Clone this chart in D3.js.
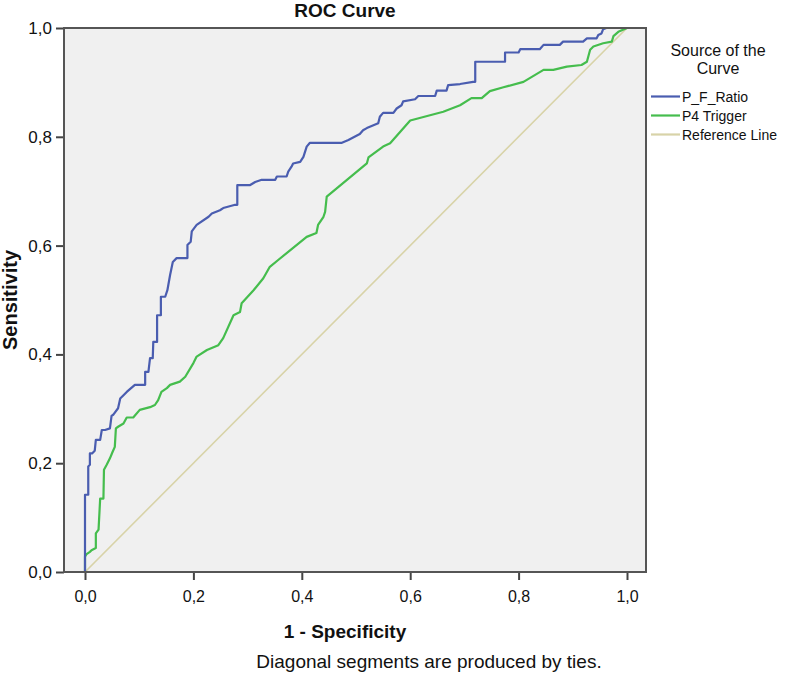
<!DOCTYPE html>
<html>
<head>
<meta charset="utf-8">
<script src="https://cdn.jsdelivr.net/npm/d3@7"></script>
<style>
  html, body { margin: 0; padding: 0; background: #fff; }
  svg { display: block; font-family: "Liberation Sans", Arial, sans-serif; }
</style>
</head>
<body>
<svg id="chart" width="788" height="681"></svg>
<script>
// ---- Data ----
const seriesNames = ["P_F_Ratio", "P4 Trigger", "Reference Line"];
const xTickValues = [0, 0.2, 0.4, 0.6, 0.8, 1.0];
const yTickValues = [0, 0.2, 0.4, 0.6, 0.8, 1.0];

// P_F_Ratio curve: 1 - specificity / sensitivity
const pfFpr = [0,0,0.006,0.006,0.009,0.009,0.013,0.018,0.020,0.028,0.031,0.037,0.046,0.049,0.052,0.061,0.065,0.077,0.092,0.111,0.111,0.117,0.120,0.125,0.126,0.133,0.133,0.140,0.140,0.148,0.152,0.157,0.162,0.169,0.189,0.189,0.195,0.197,0.206,0.228,0.234,0.249,0.255,0.277,0.281,0.281,0.304,0.314,0.326,0.351,0.354,0.372,0.375,0.381,0.384,0.397,0.403,0.409,0.415,0.474,0.486,0.507,0.513,0.520,0.541,0.544,0.550,0.569,0.575,0.584,0.587,0.609,0.615,0.646,0.649,0.667,0.670,0.692,0.716,0.720,0.720,0.775,0.775,0.800,0.803,0.839,0.846,0.876,0.882,0.919,0.926,0.944,0.947,0.953,0.956,0.962,1.0];
const pfTpr = [0,0.142,0.142,0.194,0.197,0.218,0.218,0.223,0.243,0.243,0.261,0.261,0.264,0.287,0.289,0.301,0.319,0.331,0.344,0.344,0.368,0.368,0.393,0.393,0.423,0.423,0.472,0.472,0.506,0.506,0.518,0.546,0.570,0.577,0.577,0.601,0.607,0.626,0.638,0.653,0.659,0.665,0.669,0.675,0.675,0.711,0.711,0.717,0.721,0.721,0.727,0.727,0.736,0.745,0.751,0.754,0.763,0.782,0.789,0.789,0.794,0.805,0.812,0.816,0.825,0.837,0.844,0.844,0.852,0.858,0.865,0.869,0.875,0.875,0.885,0.885,0.895,0.897,0.901,0.901,0.938,0.938,0.955,0.955,0.961,0.961,0.969,0.969,0.975,0.975,0.981,0.981,0.987,0.990,0.998,1.0,1.0];

// P4 Trigger curve
const p4Fpr = [0,0,0.003,0.009,0.012,0.020,0.020,0.025,0.028,0.034,0.035,0.040,0.046,0.051,0.055,0.057,0.061,0.071,0.077,0.089,0.101,0.120,0.129,0.135,0.141,0.151,0.157,0.175,0.185,0.200,0.206,0.225,0.246,0.255,0.274,0.286,0.289,0.311,0.329,0.341,0.357,0.409,0.427,0.430,0.440,0.443,0.446,0.520,0.523,0.550,0.563,0.600,0.661,0.692,0.713,0.732,0.747,0.772,0.809,0.846,0.864,0.889,0.916,0.926,0.932,0.938,0.956,0.972,0.975,0.984,1.0];
const p4Tpr = [0,0.028,0.033,0.037,0.040,0.044,0.071,0.078,0.135,0.135,0.188,0.197,0.209,0.221,0.230,0.264,0.267,0.273,0.284,0.284,0.298,0.303,0.307,0.316,0.331,0.338,0.344,0.350,0.359,0.384,0.396,0.408,0.417,0.430,0.472,0.478,0.494,0.518,0.540,0.561,0.574,0.616,0.623,0.638,0.653,0.662,0.690,0.751,0.762,0.782,0.788,0.830,0.846,0.858,0.871,0.871,0.884,0.891,0.901,0.923,0.923,0.929,0.932,0.938,0.960,0.966,0.972,0.975,0.985,0.993,1.0];

// Reference (chance) line
const refFpr = [0, 1];
const refTpr = [0, 1];

const seriesColors = ["#4a5db0", "#45bd4d", "#d8d3a8"];

// ---- Layout ----
const svg = d3.select("#chart");
const frame = { left: 64, right: 646, top: 28, bottom: 572 };

const x = d3.scaleLinear().domain([0, 1]).range([85, 627]);
const y = d3.scaleLinear().domain([0, 1]).range([572, 28]);

// plot background
svg.append("rect")
  .attr("x", frame.left).attr("y", frame.top)
  .attr("width", frame.right - frame.left)
  .attr("height", frame.bottom - frame.top)
  .attr("fill", "#f0f0f0");

const fmt = d => d3.format(".1f")(d).replace(".", ",");

// x axis
const xAxis = svg.append("g")
  .attr("transform", `translate(0,${frame.bottom})`)
  .call(d3.axisBottom(x).tickValues(xTickValues).tickFormat(fmt).tickSize(8).tickSizeOuter(0));
xAxis.select(".domain").remove();
xAxis.selectAll(".tick line").attr("stroke", "#444").attr("stroke-width", 2);
xAxis.selectAll(".tick text").attr("font-size", 16).attr("fill", "#111").attr("y", 14).attr("dy", "1em")
  .attr("font-family", "Liberation Sans, Arial, sans-serif");

// y axis
const yAxis = svg.append("g")
  .attr("transform", `translate(${frame.left},0)`)
  .call(d3.axisLeft(y).tickValues(yTickValues).tickFormat(fmt).tickSize(8).tickSizeOuter(0));
yAxis.select(".domain").remove();
yAxis.selectAll(".tick line").attr("stroke", "#444").attr("stroke-width", 2);
yAxis.selectAll(".tick text").attr("font-size", 17).attr("fill", "#111").attr("x", -12)
  .attr("font-family", "Liberation Sans, Arial, sans-serif");

// clip for curves
svg.append("clipPath").attr("id", "plotclip")
  .append("rect")
  .attr("x", frame.left).attr("y", frame.top - 2)
  .attr("width", frame.right - frame.left)
  .attr("height", frame.bottom - frame.top + 2);

const line = d3.line().x(d => x(d[0])).y(d => y(d[1]));
const zipPts = (a, b) => a.map((v, i) => [v, b[i]]);

const seriesData = [
  zipPts(pfFpr, pfTpr),
  zipPts(p4Fpr, p4Tpr),
  zipPts(refFpr, refTpr)
];

const curves = svg.append("g").attr("clip-path", "url(#plotclip)");
// draw reference first, then P4, then P_F
[2, 1, 0].forEach(i => {
  curves.append("path")
    .datum(seriesData[i])
    .attr("d", line)
    .attr("fill", "none")
    .attr("stroke", seriesColors[i])
    .attr("stroke-width", i === 2 ? 1.6 : 2.2)
    .attr("stroke-linejoin", "round");
});

// frame
svg.append("rect")
  .attr("x", frame.left).attr("y", frame.top)
  .attr("width", frame.right - frame.left)
  .attr("height", frame.bottom - frame.top)
  .attr("fill", "none")
  .attr("stroke", "#555")
  .attr("stroke-width", 2);

// titles
svg.append("text")
  .attr("x", 345).attr("y", 17)
  .attr("text-anchor", "middle")
  .attr("font-size", 19).attr("font-weight", "bold").attr("fill", "#111")
  .text("ROC Curve");

svg.append("text")
  .attr("x", 345).attr("y", 638)
  .attr("text-anchor", "middle")
  .attr("font-size", 19).attr("font-weight", "bold").attr("fill", "#111")
  .text("1 - Specificity");

svg.append("text")
  .attr("transform", `translate(17,300) rotate(-90)`)
  .attr("text-anchor", "middle")
  .attr("font-size", 20).attr("font-weight", "bold").attr("fill", "#111")
  .text("Sensitivity");

svg.append("text")
  .attr("x", 429).attr("y", 668)
  .attr("text-anchor", "middle")
  .attr("font-size", 19).attr("fill", "#111")
  .text("Diagonal segments are produced by ties.");

// legend
const legend = svg.append("g");
legend.append("text")
  .attr("x", 718).attr("y", 56)
  .attr("text-anchor", "middle")
  .attr("font-size", 16).attr("fill", "#111")
  .text("Source of the");
legend.append("text")
  .attr("x", 718).attr("y", 74)
  .attr("text-anchor", "middle")
  .attr("font-size", 16).attr("fill", "#111")
  .text("Curve");

const legendY = d3.scaleBand().domain(seriesNames).range([87, 144]);
seriesNames.forEach((name, i) => {
  const cy = legendY(name) + legendY.bandwidth() / 2;
  legend.append("line")
    .attr("x1", 651).attr("x2", 680)
    .attr("y1", cy).attr("y2", cy)
    .attr("stroke", seriesColors[i]).attr("stroke-width", 2.2);
  legend.append("text")
    .attr("x", 682).attr("y", cy + 5)
    .attr("font-size", 14).attr("fill", "#111")
    .text(name);
});
</script>
</body>
</html>
